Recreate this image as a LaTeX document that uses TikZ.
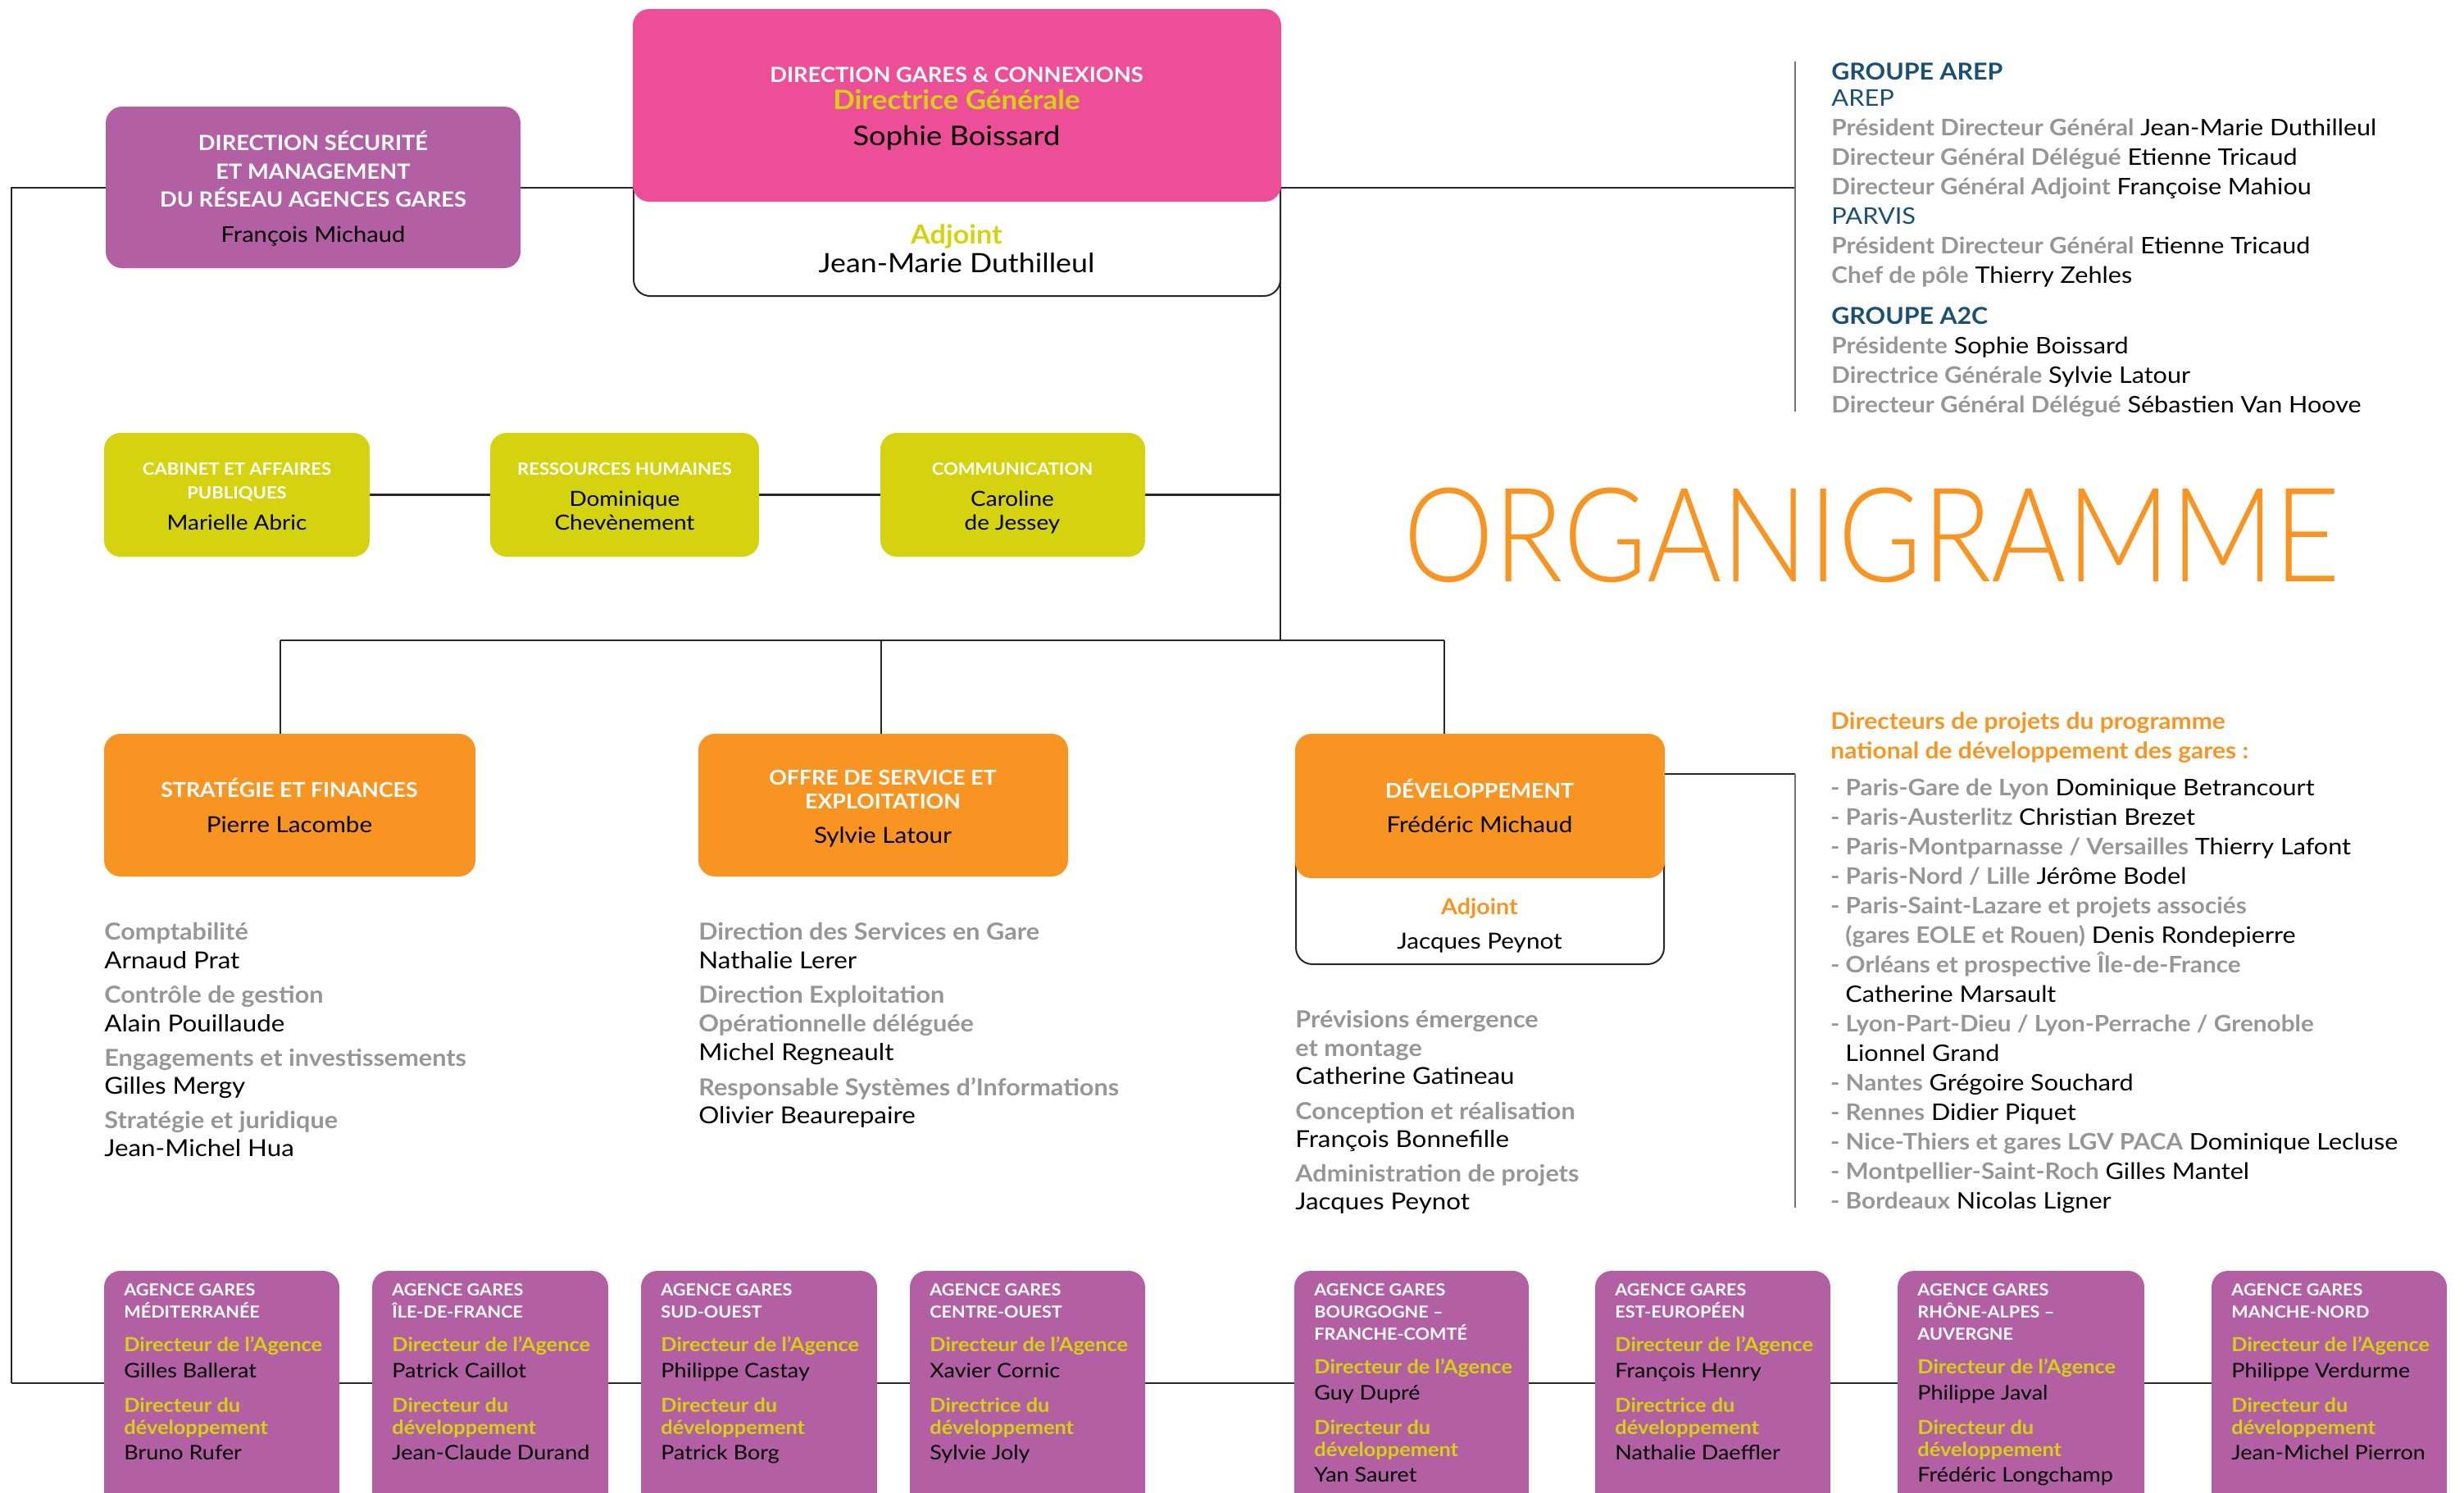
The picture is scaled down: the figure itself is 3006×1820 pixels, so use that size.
\documentclass[tikz,border=0pt]{standalone}
\usepackage{fontspec}
\setmainfont{Lato}[FakeStretch=1.1]
\newfontfamily\fsemi{Lato Bold}[FakeStretch=1.07]
\IfFontExistsTF{Lato Light}{\newfontfamily\flight{Lato Light}}{\newfontfamily\flight{Lato}}
\usetikzlibrary{fit}
\definecolor{cpink}{RGB}{236,79,152}
\definecolor{cpurple}{RGB}{178,95,164}
\definecolor{clime}{RGB}{213,211,15}
\definecolor{corange}{RGB}{247,148,34}
\definecolor{cgray}{RGB}{150,150,154}
\definecolor{cblue}{RGB}{26,80,115}
\definecolor{cline}{RGB}{40,40,40}
\newcommand\fz[1]{\fontsize{#1}{#1}\selectfont}
\newcommand\lbl[1]{{\fsemi\color{cgray}#1}}
\pgfdeclarelayer{bg}
\pgfsetlayers{bg,main}
\tikzset{
  conn/.style={draw=cline, line width=1.1pt},
  thinconn/.style={draw=black!55, line width=0.6pt},
  bx/.style={inner sep=0pt, rounded corners=10pt},
  tc/.style={inner sep=0pt, anchor=base},
  tl/.style={inner sep=0pt, anchor=base west},
  hd/.style={text=white, font={\fsemi\fz{12.75}}},
  nm/.style={text=black, font=\fz{13.5}},
  agh/.style={text=white, font={\fsemi\fz{10.1}}},
  agy/.style={text=clime, font={\fsemi\fz{11.85}}},
  agn/.style={text=black, font=\fz{12.25}},
  lab/.style={text=cgray, font={\fsemi\fz{14.3}}},
  lnm/.style={text=black, font=\fz{14.25}},
  rl/.style={text=black, font=\fz{13.9}},
}
\newcommand\aghead[6]{%
  \node[bx, fill=cpurple, fit={(#2,1550)(#3,1880)}] (#1) {};
  \node[tl, agh] (#1a) at (#2+24,1580) {#4};
  \node[tl, agh] (#1b) at (#2+24,1607) {#5};
  \node[tl, agh] (#1c) at (#2+24,1634) {#6};}
\newcommand\agbody[6]{%
  \node[tl, agy] (#1d) at (#2+24,1648+#3) {Directeur de l’Agence};
  \node[tl, agn] (#1e) at (#2+24,1680+#3) {#4};
  \node[tl, agy] (#1f) at (#2+24,1722+#3) {#5};
  \node[tl, agy] (#1g) at (#2+24,1749+#3) {développement};
  \node[tl, agn] (#1h) at (#2+24,1780+#3) {#6};}
\begin{document}
\begin{tikzpicture}[x=0.5pt,y=-0.5pt]
\useasboundingbox (0,0) rectangle (3006,1820);

% ---------- top boxes
\node[bx, fill=cpurple, fit={(129,130)(635,327)}] (secu) {};
\node[tc, hd] (secu1) at (382,183) {DIRECTION SÉCURITÉ};
\node[tc, hd] (secu2) at (382,218) {ET MANAGEMENT};
\node[tc, hd] (secu3) at (382,252) {DU RÉSEAU AGENCES GARES};
\node[tc, nm, font=\fz{13.25}] (secu4) at (382,295) {François Michaud};

\node[bx, draw=cline, line width=1pt, fill=white, fit={(773,205)(1562,361)}] (dgw) {};
\node[bx, fill=cpink, fit={(772,11)(1563,246)}] (dg) {};
\node[tc, hd, font={\fsemi\fz{12.75}}] (dg1) at (1167,100) {DIRECTION GARES \& CONNEXIONS};
\node[tc, text=clime, font={\fsemi\fz{16.3}}] (dg2) at (1167,133) {Directrice Générale};
\node[tc, nm, font=\fz{16.5}] (dg3) at (1167,177) {Sophie Boissard};
\node[tc, text=clime, font={\fsemi\fz{16}}] (dg4) at (1167,297) {Adjoint};
\node[tc, nm, font=\fz{16.25}] (dg5) at (1167,332) {Jean-Marie Duthilleul};

% ---------- cabinet row
\node[bx, fill=clime, fit={(127,528)(451,679)}] (cab) {};
\node[tc, hd, font={\fsemi\fz{10.3}}] (cab1) at (289,579) {CABINET ET AFFAIRES};
\node[tc, hd, font={\fsemi\fz{10.3}}] (cab2) at (289,608) {PUBLIQUES};
\node[tc, nm, font=\fz{12.7}] (cab3) at (289,646) {Marielle Abric};
\node[bx, fill=clime, fit={(598,528)(926,679)}] (rh) {};
\node[tc, hd, font={\fsemi\fz{10.3}}] (rh1) at (762,579) {RESSOURCES HUMAINES};
\node[tc, nm, font=\fz{12.7}] (rh2) at (762,617) {Dominique};
\node[tc, nm, font=\fz{12.7}] (rh3) at (762,646) {Chevènement};
\node[bx, fill=clime, fit={(1074,528)(1397,679)}] (com) {};
\node[tc, hd, font={\fsemi\fz{10.3}}] (com1) at (1235,579) {COMMUNICATION};
\node[tc, nm, font=\fz{12.7}] (com2) at (1235,617) {Caroline};
\node[tc, nm, font=\fz{12.7}] (com3) at (1235,646) {de Jessey};

% ---------- orange row
\node[bx, fill=corange, fit={(127,895)(580,1069)}] (strat) {};
\node[tc, hd, font={\fsemi\fz{12.5}}] (strat1) at (353,972) {STRATÉGIE ET FINANCES};
\node[tc, nm] (strat2) at (353,1015) {Pierre Lacombe};
\node[bx, fill=corange, fit={(852,895)(1303,1069)}] (offre) {};
\node[tc, hd, font={\fsemi\fz{12.5}}] (offre1) at (1077,957) {OFFRE DE SERVICE ET};
\node[tc, hd, font={\fsemi\fz{12.5}}] (offre2) at (1077,986) {EXPLOITATION};
\node[tc, nm] (offre3) at (1077,1028) {Sylvie Latour};
\node[bx, draw=cline, line width=1pt, fill=white, fit={(1581,1030)(2030,1176)}] (devw) {};
\node[bx, fill=corange, fit={(1580,895)(2031,1071)}] (dev) {};
\node[tc, hd, font={\fsemi\fz{12.5}}] (dev1) at (1805,973) {DÉVELOPPEMENT};
\node[tc, nm] (dev2) at (1805,1015) {Frédéric Michaud};
\node[tc, text=corange, font={\fsemi\fz{13.4}}] (dev3) at (1805,1115) {Adjoint};
\node[tc, nm] (dev4) at (1805,1157) {Jacques Peynot};

% ---------- lists under boxes
\node[tl, lab] (s1) at (127,1146) {Comptabilité};
\node[tl, lnm] (s2) at (127,1181) {Arnaud Prat};
\node[tl, lab] (s3) at (127,1223) {Contrôle de gestion};
\node[tl, lnm] (s4) at (127,1258) {Alain Pouillaude};
\node[tl, lab] (s5) at (127,1300) {Engagements et investissements};
\node[tl, lnm] (s6) at (127,1334) {Gilles Mergy};
\node[tl, lab] (s7) at (127,1376) {Stratégie et juridique};
\node[tl, lnm] (s8) at (127,1410) {Jean-Michel Hua};

\node[tl, lab] (o1) at (852,1146) {Direction des Services en Gare};
\node[tl, lnm] (o2) at (852,1181) {Nathalie Lerer};
\node[tl, lab] (o3) at (852,1223) {Direction Exploitation};
\node[tl, lab] (o4) at (852,1258) {Opérationnelle déléguée};
\node[tl, lnm] (o5) at (852,1293) {Michel Regneault};
\node[tl, lab] (o6) at (852,1336) {Responsable Systèmes d’Informations};
\node[tl, lnm] (o7) at (852,1370) {Olivier Beaurepaire};

\node[tl, lab] (d1) at (1580,1253) {Prévisions émergence};
\node[tl, lab] (d2) at (1580,1288) {et montage};
\node[tl, lnm] (d3) at (1580,1322) {Catherine Gatineau};
\node[tl, lab] (d4) at (1580,1365) {Conception et réalisation};
\node[tl, lnm] (d5) at (1580,1399) {François Bonnefille};
\node[tl, lab] (d6) at (1580,1441) {Administration de projets};
\node[tl, lnm] (d7) at (1580,1475) {Jacques Peynot};

% ---------- top right block
\node[tl, text=cblue, font={\fsemi\fz{14.2}}] (r1) at (2234,97) {GROUPE AREP};
\node[tl, text=cblue, font=\fz{14}] (r2) at (2234,129) {AREP};
\node[tl, rl] (r3) at (2234,165) {\lbl{Président Directeur Général} Jean-Marie Duthilleul};
\node[tl, rl] (r4) at (2234,201) {\lbl{Directeur Général Délégué} Etienne Tricaud};
\node[tl, rl] (r5) at (2234,237) {\lbl{Directeur Général Adjoint} Françoise Mahiou};
\node[tl, text=cblue, font=\fz{14}] (r6) at (2234,273) {PARVIS};
\node[tl, rl] (r7) at (2234,309) {\lbl{Président Directeur Général} Etienne Tricaud};
\node[tl, rl] (r8) at (2234,345) {\lbl{Chef de pôle} Thierry Zehles};
\node[tl, text=cblue, font={\fsemi\fz{14.2}}] (r9) at (2234,395) {GROUPE A2C};
\node[tl, rl] (r10) at (2234,431) {\lbl{Présidente} Sophie Boissard};
\node[tl, rl] (r11) at (2234,467) {\lbl{Directrice Générale} Sylvie Latour};
\node[tl, rl] (r12) at (2234,503) {\lbl{Directeur Général Délégué} Sébastien Van Hoove};

% ---------- title
\node[tl, text=corange, font={\flight\fz{80}}] (title) at (1712,709) {\scalebox{0.872}[1]{ORGANIGRAMME}};

% ---------- right list
\node[tl, text=corange, font={\fsemi\fz{14}}] (p0) at (2233,889) {Directeurs de projets du programme};
\node[tl, text=corange, font={\fsemi\fz{14}}] (p00) at (2233,925) {national de développement des gares :};
\node[tl, rl] (p1) at (2233,970) {\lbl{- Paris-Gare de Lyon} Dominique Betrancourt};
\node[tl, rl] (p2) at (2233,1006) {\lbl{- Paris-Austerlitz} Christian Brezet};
\node[tl, rl] (p3) at (2233,1042) {\lbl{- Paris-Montparnasse / Versailles} Thierry Lafont};
\node[tl, rl] (p4) at (2233,1078) {\lbl{- Paris-Nord / Lille} Jérôme Bodel};
\node[tl, rl] (p5) at (2233,1114) {\lbl{- Paris-Saint-Lazare et projets associés}};
\node[tl, rl] (p6) at (2251,1150) {\lbl{(gares EOLE et Rouen)} Denis Rondepierre};
\node[tl, rl] (p7) at (2233,1186) {\lbl{- Orléans et prospective Île-de-France}};
\node[tl, rl] (p8) at (2251,1222) {Catherine Marsault};
\node[tl, rl] (p9) at (2233,1258) {\lbl{- Lyon-Part-Dieu / Lyon-Perrache / Grenoble}};
\node[tl, rl] (p10) at (2251,1294) {Lionnel Grand};
\node[tl, rl] (p11) at (2233,1330) {\lbl{- Nantes} Grégoire Souchard};
\node[tl, rl] (p12) at (2233,1366) {\lbl{- Rennes} Didier Piquet};
\node[tl, rl] (p13) at (2233,1402) {\lbl{- Nice-Thiers et gares LGV PACA} Dominique Lecluse};
\node[tl, rl] (p14) at (2233,1438) {\lbl{- Montpellier-Saint-Roch} Gilles Mantel};
\node[tl, rl] (p15) at (2233,1474) {\lbl{- Bordeaux} Nicolas Ligner};

% ---------- agences
\aghead{ag1}{127}{414}{AGENCE GARES}{MÉDITERRANÉE}{}
\agbody{ag1}{127}{0}{Gilles Ballerat}{Directeur du}{Bruno Rufer}
\aghead{ag2}{454}{742}{AGENCE GARES}{ÎLE-DE-FRANCE}{}
\agbody{ag2}{454}{0}{Patrick Caillot}{Directeur du}{Jean-Claude Durand}
\aghead{ag3}{782}{1070}{AGENCE GARES}{SUD-OUEST}{}
\agbody{ag3}{782}{0}{Philippe Castay}{Directeur du}{Patrick Borg}
\aghead{ag4}{1110}{1397}{AGENCE GARES}{CENTRE-OUEST}{}
\agbody{ag4}{1110}{0}{Xavier Cornic}{Directrice du}{Sylvie Joly}
\aghead{ag5}{1579}{1865}{AGENCE GARES}{BOURGOGNE –}{FRANCHE-COMTÉ}
\agbody{ag5}{1579}{27}{Guy Dupré}{Directeur du}{Yan Sauret}
\aghead{ag6}{1946}{2233}{AGENCE GARES}{EST-EUROPÉEN}{}
\agbody{ag6}{1946}{0}{François Henry}{Directrice du}{Nathalie Daeffler}
\aghead{ag7}{2315}{2616}{AGENCE GARES}{RHÔNE-ALPES –}{AUVERGNE}
\agbody{ag7}{2315}{27}{Philippe Javal}{Directeur du}{Frédéric Longchamp}
\aghead{ag8}{2698}{2985}{AGENCE GARES}{MANCHE-NORD}{}
\agbody{ag8}{2698}{0}{Philippe Verdurme}{Directeur du}{Jean-Michel Pierron}

% ---------- connectors
\begin{pgfonlayer}{bg}
\coordinate (tl) at (14,229);
\coordinate (bl) at (14,1687);
\coordinate (arT) at (2190,75);
\coordinate (arB) at (2190,502);
\coordinate (vbot) at (1562,781);
\coordinate (j1) at (342,781);
\coordinate (j2) at (1075,781);
\coordinate (j3) at (1762,781);
\coordinate (dr) at (2190,944);
\coordinate (drB) at (2190,1473);
\draw[conn] (bl) -- (tl) -- (secu.west |- tl) -- (dg.west |- tl) -- (tl -| arT);
\draw[thinconn] (arT) -- (arB);
\draw[conn] (vbot |- tl) -- (vbot);
\draw[conn] (cab) -- (rh) -- (com) -- (com -| vbot);
\draw[conn] (j1) -- (j3);
\draw[conn] (j1) -- (j1 |- strat.north);
\draw[conn] (j2) -- (j2 |- offre.north);
\draw[conn] (j3) -- (j3 |- dev.north);
\draw[conn] (dev.east |- dr) -- (dr);
\draw[thinconn] (dr) -- (drB);
\draw[conn] (bl) -- (ag1.west |- bl) -- (ag8.west |- bl);
\end{pgfonlayer}
\end{tikzpicture}
\end{document}
